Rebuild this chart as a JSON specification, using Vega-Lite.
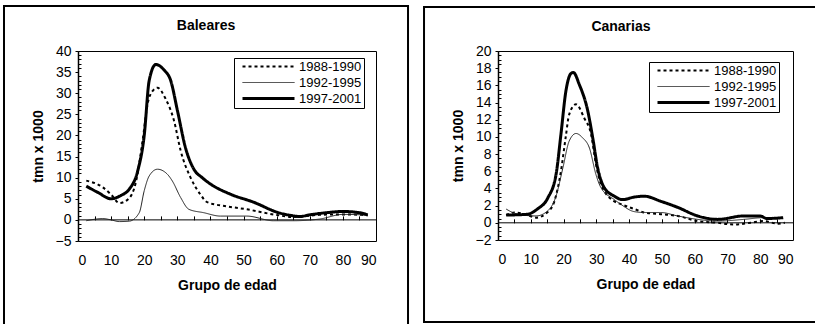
{
  "$schema": "https://vega.github.io/schema/vega-lite/v6.json",
  "background": "white",
  "padding": {"left": 2, "top": 4, "right": 0, "bottom": 0},
  "spacing": 12,
  "resolve": {
    "scale": {"color": "independent", "strokeDash": "independent", "strokeWidth": "independent"},
    "legend": {"color": "independent", "strokeDash": "independent", "strokeWidth": "independent"}
  },
  "config": {
    "font": "Liberation Sans",
    "view": {"stroke": "black", "strokeWidth": 1},
    "axis": {"labelFontSize": 14, "titleFontSize": 14, "labelColor": "black", "titleColor": "black", "tickColor": "black", "domainColor": "black", "grid": false},
    "title": {"fontSize": 14, "fontWeight": "bold", "color": "black"},
    "legend": {"labelFontSize": 13, "labelColor": "black"}
  },
  "datasets": {
    "baleares": [
      {"serie": "1988-1990", "edad": 2.5, "tmn": 9.3}, {"serie": "1988-1990", "edad": 7.5, "tmn": 7.7}, {"serie": "1988-1990", "edad": 10, "tmn": 6}, {"serie": "1988-1990", "edad": 12.5, "tmn": 4}, {"serie": "1988-1990", "edad": 15, "tmn": 4.8}, {"serie": "1988-1990", "edad": 17.5, "tmn": 9}, {"serie": "1988-1990", "edad": 19.5, "tmn": 18.7}, {"serie": "1988-1990", "edad": 21, "tmn": 27.4}, {"serie": "1988-1990", "edad": 22.5, "tmn": 30.5}, {"serie": "1988-1990", "edad": 24, "tmn": 31.3}, {"serie": "1988-1990", "edad": 26.5, "tmn": 28.6}, {"serie": "1988-1990", "edad": 29, "tmn": 23.5}, {"serie": "1988-1990", "edad": 31, "tmn": 16.4}, {"serie": "1988-1990", "edad": 34, "tmn": 10}, {"serie": "1988-1990", "edad": 37, "tmn": 6}, {"serie": "1988-1990", "edad": 39, "tmn": 4.2}, {"serie": "1988-1990", "edad": 45, "tmn": 3.2}, {"serie": "1988-1990", "edad": 51, "tmn": 2.5}, {"serie": "1988-1990", "edad": 59, "tmn": 1.3}, {"serie": "1988-1990", "edad": 65, "tmn": 0.7}, {"serie": "1988-1990", "edad": 73, "tmn": 1.2}, {"serie": "1988-1990", "edad": 80, "tmn": 1.3}, {"serie": "1988-1990", "edad": 85.5, "tmn": 1.2}, {"serie": "1988-1990", "edad": 87.5, "tmn": 1.1},
      {"serie": "1992-1995", "edad": 2.5, "tmn": -0.2}, {"serie": "1992-1995", "edad": 7.5, "tmn": 0.3}, {"serie": "1992-1995", "edad": 10, "tmn": 0}, {"serie": "1992-1995", "edad": 12.5, "tmn": -0.4}, {"serie": "1992-1995", "edad": 15.5, "tmn": -0.3}, {"serie": "1992-1995", "edad": 18.5, "tmn": 1.7}, {"serie": "1992-1995", "edad": 20, "tmn": 6.9}, {"serie": "1992-1995", "edad": 21.5, "tmn": 10.4}, {"serie": "1992-1995", "edad": 24, "tmn": 12}, {"serie": "1992-1995", "edad": 27, "tmn": 10.8}, {"serie": "1992-1995", "edad": 28.5, "tmn": 9.2}, {"serie": "1992-1995", "edad": 31, "tmn": 5.3}, {"serie": "1992-1995", "edad": 33.5, "tmn": 2.5}, {"serie": "1992-1995", "edad": 38, "tmn": 1.7}, {"serie": "1992-1995", "edad": 43, "tmn": 0.9}, {"serie": "1992-1995", "edad": 51, "tmn": 0.9}, {"serie": "1992-1995", "edad": 59, "tmn": -0.2}, {"serie": "1992-1995", "edad": 65, "tmn": -0.2}, {"serie": "1992-1995", "edad": 73, "tmn": 0.2}, {"serie": "1992-1995", "edad": 80, "tmn": 1.3}, {"serie": "1992-1995", "edad": 85.5, "tmn": 1.2}, {"serie": "1992-1995", "edad": 87.5, "tmn": 1},
      {"serie": "1997-2001", "edad": 2.5, "tmn": 8}, {"serie": "1997-2001", "edad": 6, "tmn": 6.5}, {"serie": "1997-2001", "edad": 10, "tmn": 5}, {"serie": "1997-2001", "edad": 13, "tmn": 5.8}, {"serie": "1997-2001", "edad": 15.5, "tmn": 7.3}, {"serie": "1997-2001", "edad": 18, "tmn": 11.5}, {"serie": "1997-2001", "edad": 20, "tmn": 20}, {"serie": "1997-2001", "edad": 21.5, "tmn": 33}, {"serie": "1997-2001", "edad": 23.5, "tmn": 36.8}, {"serie": "1997-2001", "edad": 26, "tmn": 35.5}, {"serie": "1997-2001", "edad": 28, "tmn": 33}, {"serie": "1997-2001", "edad": 30, "tmn": 26}, {"serie": "1997-2001", "edad": 32.5, "tmn": 17}, {"serie": "1997-2001", "edad": 35, "tmn": 12}, {"serie": "1997-2001", "edad": 37.5, "tmn": 10}, {"serie": "1997-2001", "edad": 40, "tmn": 8.5}, {"serie": "1997-2001", "edad": 46, "tmn": 6.1}, {"serie": "1997-2001", "edad": 53, "tmn": 4.2}, {"serie": "1997-2001", "edad": 61, "tmn": 1.6}, {"serie": "1997-2001", "edad": 64, "tmn": 1.1}, {"serie": "1997-2001", "edad": 67, "tmn": 0.8}, {"serie": "1997-2001", "edad": 70, "tmn": 1.2}, {"serie": "1997-2001", "edad": 75, "tmn": 1.7}, {"serie": "1997-2001", "edad": 80, "tmn": 2}, {"serie": "1997-2001", "edad": 85, "tmn": 1.7}, {"serie": "1997-2001", "edad": 87.5, "tmn": 1.2}
    ],
    "canarias": [
      {"serie": "1988-1990", "edad": 2.5, "tmn": 0.9}, {"serie": "1988-1990", "edad": 5, "tmn": 1.2}, {"serie": "1988-1990", "edad": 9, "tmn": 0.9}, {"serie": "1988-1990", "edad": 11.6, "tmn": 0.6}, {"serie": "1988-1990", "edad": 15, "tmn": 1.2}, {"serie": "1988-1990", "edad": 17.2, "tmn": 2.5}, {"serie": "1988-1990", "edad": 19.2, "tmn": 6}, {"serie": "1988-1990", "edad": 20.7, "tmn": 10.1}, {"serie": "1988-1990", "edad": 21.7, "tmn": 12.6}, {"serie": "1988-1990", "edad": 23.8, "tmn": 13.8}, {"serie": "1988-1990", "edad": 26.3, "tmn": 12.2}, {"serie": "1988-1990", "edad": 28.4, "tmn": 10.3}, {"serie": "1988-1990", "edad": 29.9, "tmn": 6.8}, {"serie": "1988-1990", "edad": 31.4, "tmn": 4.5}, {"serie": "1988-1990", "edad": 35.5, "tmn": 2.5}, {"serie": "1988-1990", "edad": 37.3, "tmn": 2.2}, {"serie": "1988-1990", "edad": 41.6, "tmn": 1.6}, {"serie": "1988-1990", "edad": 44.6, "tmn": 1.2}, {"serie": "1988-1990", "edad": 49.7, "tmn": 1}, {"serie": "1988-1990", "edad": 54.8, "tmn": 0.8}, {"serie": "1988-1990", "edad": 60.9, "tmn": 0.2}, {"serie": "1988-1990", "edad": 67, "tmn": 0}, {"serie": "1988-1990", "edad": 72, "tmn": -0.2}, {"serie": "1988-1990", "edad": 77, "tmn": 0}, {"serie": "1988-1990", "edad": 81, "tmn": 0.2}, {"serie": "1988-1990", "edad": 85.5, "tmn": -0.1}, {"serie": "1988-1990", "edad": 87.5, "tmn": 0},
      {"serie": "1992-1995", "edad": 2.5, "tmn": 1.6}, {"serie": "1992-1995", "edad": 6, "tmn": 1}, {"serie": "1992-1995", "edad": 11.6, "tmn": 0.8}, {"serie": "1992-1995", "edad": 15.2, "tmn": 1.4}, {"serie": "1992-1995", "edad": 17.7, "tmn": 3.1}, {"serie": "1992-1995", "edad": 19.8, "tmn": 6.4}, {"serie": "1992-1995", "edad": 21.7, "tmn": 9.5}, {"serie": "1992-1995", "edad": 23.8, "tmn": 10.4}, {"serie": "1992-1995", "edad": 25.8, "tmn": 9.9}, {"serie": "1992-1995", "edad": 27.9, "tmn": 8.7}, {"serie": "1992-1995", "edad": 29.9, "tmn": 5.6}, {"serie": "1992-1995", "edad": 31.4, "tmn": 4.1}, {"serie": "1992-1995", "edad": 35.5, "tmn": 2.7}, {"serie": "1992-1995", "edad": 37.3, "tmn": 2.2}, {"serie": "1992-1995", "edad": 41.6, "tmn": 1.3}, {"serie": "1992-1995", "edad": 44.6, "tmn": 1.2}, {"serie": "1992-1995", "edad": 49.7, "tmn": 1.2}, {"serie": "1992-1995", "edad": 54.8, "tmn": 0.8}, {"serie": "1992-1995", "edad": 60.9, "tmn": 0.4}, {"serie": "1992-1995", "edad": 67, "tmn": 0.2}, {"serie": "1992-1995", "edad": 75, "tmn": 0.4}, {"serie": "1992-1995", "edad": 81, "tmn": 0.6}, {"serie": "1992-1995", "edad": 87, "tmn": 0.5},
      {"serie": "1997-2001", "edad": 2.5, "tmn": 0.9}, {"serie": "1997-2001", "edad": 9, "tmn": 1}, {"serie": "1997-2001", "edad": 12, "tmn": 1.6}, {"serie": "1997-2001", "edad": 15.2, "tmn": 2.9}, {"serie": "1997-2001", "edad": 17.7, "tmn": 5.6}, {"serie": "1997-2001", "edad": 19.2, "tmn": 10.3}, {"serie": "1997-2001", "edad": 20.7, "tmn": 15.3}, {"serie": "1997-2001", "edad": 22.3, "tmn": 17.4}, {"serie": "1997-2001", "edad": 23, "tmn": 17.5}, {"serie": "1997-2001", "edad": 24.8, "tmn": 16.1}, {"serie": "1997-2001", "edad": 27.4, "tmn": 13}, {"serie": "1997-2001", "edad": 28.9, "tmn": 9.9}, {"serie": "1997-2001", "edad": 30.4, "tmn": 6.4}, {"serie": "1997-2001", "edad": 32.4, "tmn": 4.1}, {"serie": "1997-2001", "edad": 35.5, "tmn": 3.1}, {"serie": "1997-2001", "edad": 38, "tmn": 2.7}, {"serie": "1997-2001", "edad": 41.6, "tmn": 3}, {"serie": "1997-2001", "edad": 44.6, "tmn": 3.1}, {"serie": "1997-2001", "edad": 49.7, "tmn": 2.5}, {"serie": "1997-2001", "edad": 54.8, "tmn": 1.8}, {"serie": "1997-2001", "edad": 60.9, "tmn": 0.8}, {"serie": "1997-2001", "edad": 67, "tmn": 0.4}, {"serie": "1997-2001", "edad": 75, "tmn": 0.8}, {"serie": "1997-2001", "edad": 80, "tmn": 0.8}, {"serie": "1997-2001", "edad": 82, "tmn": 0.5}, {"serie": "1997-2001", "edad": 87, "tmn": 0.6}
    ]
  },
  "hconcat": [
    {
      "width": 298,
      "height": 190,
      "title": {"text": "Baleares", "frame": "bounds", "anchor": "middle", "offset": -28},
      "resolve": {"axis": {"x": "independent", "y": "independent"}},
      "layer": [
        {
          "data": {"values": [{}]},
          "mark": {"type": "rect", "filled": false, "stroke": "black", "strokeWidth": 2},
          "encoding": {
            "x": {"datum": -22.35, "type": "quantitative", "scale": {"domain": [0, 90], "nice": false, "zero": false}, "axis": null},
            "x2": {"datum": 99.67},
            "y": {"datum": 50.66, "type": "quantitative", "scale": {"domain": [-5, 40], "nice": false, "zero": false}, "axis": null},
            "y2": {"datum": -25.6}
          }
        },
        {
          "data": {"values": [{}]},
          "mark": {"type": "rule", "stroke": "black", "strokeWidth": 1},
          "encoding": {
            "x": {"datum": 0, "type": "quantitative", "scale": {"domain": [0, 90], "nice": false, "zero": false}, "axis": {"orient": "bottom", "offset": -21.1, "values": [5, 10, 15, 20, 25, 30, 35, 40, 45, 50, 55, 60, 65, 70, 75, 80, 85], "tickSize": -4, "labels": false, "domain": false, "title": null}},
            "x2": {"datum": 90},
            "y": {"datum": 0, "type": "quantitative", "scale": {"domain": [-5, 40], "nice": false, "zero": false}, "axis": {"orient": "left", "values": [-4, -3, -2, -1, 1, 2, 3, 4, 6, 7, 8, 9, 11, 12, 13, 14, 16, 17, 18, 19, 21, 22, 23, 24, 26, 27, 28, 29, 31, 32, 33, 34, 36, 37, 38, 39], "tickSize": -3, "labels": false, "domain": false, "title": null}}
          }
        },
        {
          "data": {"name": "baleares"},
          "mark": {"type": "line", "interpolate": "monotone"},
          "encoding": {
            "x": {"field": "edad", "type": "quantitative", "scale": {"domain": [0, 90], "nice": false, "zero": false}, "axis": {"orient": "bottom", "values": [0, 10, 20, 30, 40, 50, 60, 70, 80, 90], "ticks": false, "domain": false, "labelPadding": 12, "title": "Grupo de edad", "titlePadding": 11}},
            "y": {"field": "tmn", "type": "quantitative", "scale": {"domain": [-5, 40], "nice": false, "zero": false}, "axis": {"orient": "left", "values": [-5, 0, 5, 10, 15, 20, 25, 30, 35, 40], "tickSize": 3, "domainWidth": 1.5, "labelPadding": 4, "title": "tmn x 1000", "titlePadding": 10}},
            "color": {"field": "serie", "type": "nominal", "scale": {"domain": ["1988-1990", "1992-1995", "1997-2001"], "range": ["black", "#222222", "black"]}, "legend": {"title": null, "orient": "none", "legendX": 156, "legendY": 7, "symbolType": "M0,0H52", "symbolSize": 4, "labelOffset": 50, "padding": 2, "rowPadding": 2, "strokeColor": "black", "fillColor": "white", "labelFontSize": 13}},
            "strokeDash": {"field": "serie", "type": "nominal", "scale": {"domain": ["1988-1990", "1992-1995", "1997-2001"], "range": [[3, 3], [1, 0], [1, 0]]}},
            "strokeWidth": {"field": "serie", "type": "nominal", "scale": {"type": "ordinal", "domain": ["1988-1990", "1992-1995", "1997-2001"], "range": [2, 1, 3]}}
          }
        }
      ]
    },
    {
      "width": 295,
      "height": 189,
      "title": {"text": "Canarias", "frame": "bounds", "anchor": "middle", "offset": -28},
      "resolve": {"axis": {"x": "independent", "y": "independent"}},
      "layer": [
        {
          "data": {"values": [{}]},
          "mark": {"type": "rect", "filled": false, "stroke": "black", "strokeWidth": 2},
          "encoding": {
            "x": {"datum": -22.57, "type": "quantitative", "scale": {"domain": [0, 90], "nice": false, "zero": false}, "axis": null},
            "x2": {"datum": 97.6},
            "y": {"datum": 25.12, "type": "quantitative", "scale": {"domain": [-2, 20], "nice": false, "zero": false}, "axis": null},
            "y2": {"datum": -11.54}
          }
        },
        {
          "data": {"values": [{}]},
          "mark": {"type": "rule", "stroke": "black", "strokeWidth": 1},
          "encoding": {
            "x": {"datum": 0, "type": "quantitative", "scale": {"domain": [0, 90], "nice": false, "zero": false}, "axis": {"orient": "bottom", "offset": -17.18, "values": [5, 10, 15, 20, 25, 30, 35, 40, 45, 50, 55, 60, 65, 70, 75, 80, 85], "tickSize": -4, "labels": false, "domain": false, "title": null}},
            "x2": {"datum": 90},
            "y": {"datum": 0, "type": "quantitative", "scale": {"domain": [-2, 20], "nice": false, "zero": false}, "axis": {"orient": "left", "values": [-1.5, -1, -0.5, 0.5, 1, 1.5, 2.5, 3, 3.5, 4.5, 5, 5.5, 6.5, 7, 7.5, 8.5, 9, 9.5, 10.5, 11, 11.5, 12.5, 13, 13.5, 14.5, 15, 15.5, 16.5, 17, 17.5, 18.5, 19, 19.5], "tickSize": -3, "labels": false, "domain": false, "title": null}}
          }
        },
        {
          "data": {"name": "canarias"},
          "mark": {"type": "line", "interpolate": "monotone"},
          "encoding": {
            "x": {"field": "edad", "type": "quantitative", "scale": {"domain": [0, 90], "nice": false, "zero": false}, "axis": {"orient": "bottom", "values": [0, 10, 20, 30, 40, 50, 60, 70, 80, 90], "ticks": false, "domain": false, "labelPadding": 12, "title": "Grupo de edad", "titlePadding": 11}},
            "y": {"field": "tmn", "type": "quantitative", "scale": {"domain": [-2, 20], "nice": false, "zero": false}, "axis": {"orient": "left", "values": [-2, 0, 2, 4, 6, 8, 10, 12, 14, 16, 18, 20], "tickSize": 3, "domainWidth": 1.5, "labelPadding": 4, "title": "tmn x 1000", "titlePadding": 10}},
            "color": {"field": "serie", "type": "nominal", "scale": {"domain": ["1988-1990", "1992-1995", "1997-2001"], "range": ["black", "#222222", "black"]}, "legend": {"title": null, "orient": "none", "legendX": 151, "legendY": 11, "symbolType": "M0,0H52", "symbolSize": 4, "labelOffset": 50, "padding": 2, "rowPadding": 2, "strokeColor": "black", "fillColor": "white", "labelFontSize": 13}},
            "strokeDash": {"field": "serie", "type": "nominal", "scale": {"domain": ["1988-1990", "1992-1995", "1997-2001"], "range": [[3, 3], [1, 0], [1, 0]]}},
            "strokeWidth": {"field": "serie", "type": "nominal", "scale": {"type": "ordinal", "domain": ["1988-1990", "1992-1995", "1997-2001"], "range": [2, 1, 3]}}
          }
        }
      ]
    }
  ]
}
